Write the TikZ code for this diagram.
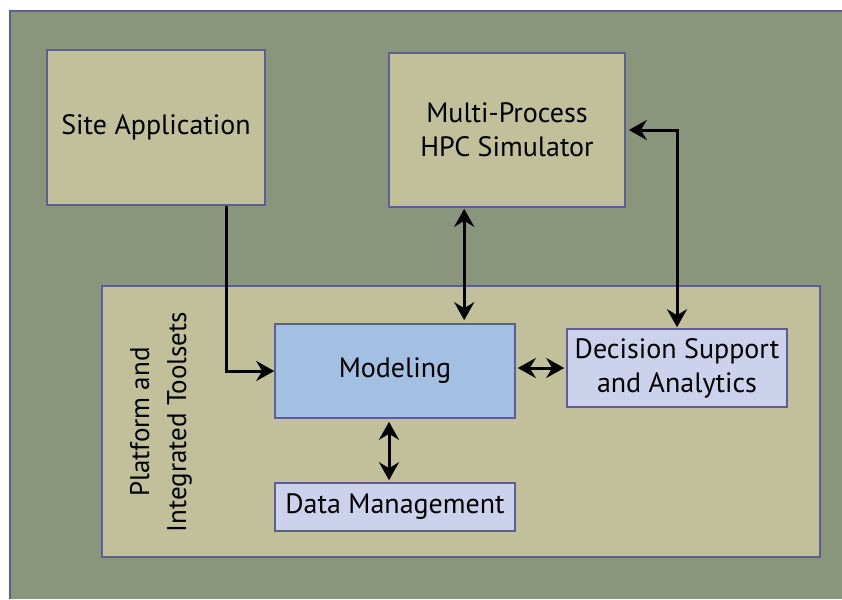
\documentclass[tikz,border=0pt]{standalone}
\usepackage{fontspec}
\setmainfont{PT Sans}
\usetikzlibrary{arrows.meta}

\definecolor{bggreen}{RGB}{137,150,124}
\definecolor{boxtan}{RGB}{193,192,154}
\definecolor{modelblue}{RGB}{163,191,226}
\definecolor{toollilac}{RGB}{205,210,236}
\definecolor{edgeblue}{RGB}{92,94,150}

\tikzset{
  box/.style={draw=edgeblue, line width=1.6pt, fill=boxtan, align=center,
    inner sep=0pt, text=black, font=\fontsize{28}{34}\selectfont},
  tool/.style={box, fill=toollilac},
  link/.style={line width=3pt, -{Stealth[length=18pt,width=20pt,inset=6pt]}},
  twoway/.style={line width=3pt, {Stealth[length=18pt,width=20pt,inset=6pt]}-{Stealth[length=18pt,width=20pt,inset=6pt]}}
}

\begin{document}
\begin{tikzpicture}[x=1pt,y=-1pt]
        % frame
        \useasboundingbox (0,0) rectangle (842,599);
        \fill[white] (0,0) rectangle (842,599);
        \fill[bggreen] (10,11) rectangle (842,599);
        \draw[edgeblue, line width=1.6pt] (10,599) -- (10,11) -- (842,11);

        % outer boxes
        \node[box, minimum width=218pt, minimum height=155pt] (site) at (156,127.5) {Site Application};
        \node[box, minimum width=236pt, minimum height=154pt] (sim) at (507,130) {Multi-Process\\HPC Simulator};

        % platform
        \node[box, minimum width=718pt, minimum height=271pt] (platform) at (461,421.5) {};
        \node[rotate=90, align=center, text=black, font=\fontsize{27}{37}\selectfont] (platlabel) at (161,422) {Platform and\\Integrated Toolsets};

        % toolsets
        \node[box, fill=modelblue, minimum width=240pt, minimum height=94pt] (model) at (395,371) {Modeling};
        \node[tool, minimum width=240pt, minimum height=48pt] (data) at (395,507) {Data Management};
        \node[tool, minimum width=220pt, minimum height=78pt] (decision) at (677,368) {Decision Support\\and Analytics};

        % connectors
        \draw[link] ([xshift=-39pt]site.south east) |- (model.west);
        \draw[twoway, shorten <=1pt, shorten >=3pt] ([xshift=76pt]sim.south west) -- ([xshift=76pt]sim.south west |- model.north);
        \draw[twoway, shorten <=1pt, shorten >=3pt] (decision.north) |- (sim.east);
        \draw[twoway, shorten <=2pt, shorten >=2pt] (decision.west -| model.east) -- (decision.west);
        \draw[twoway, shorten <=3pt, shorten >=2pt] ([xshift=-6pt]model.south) -- ([xshift=-6pt]data.north);
\end{tikzpicture}
\end{document}
